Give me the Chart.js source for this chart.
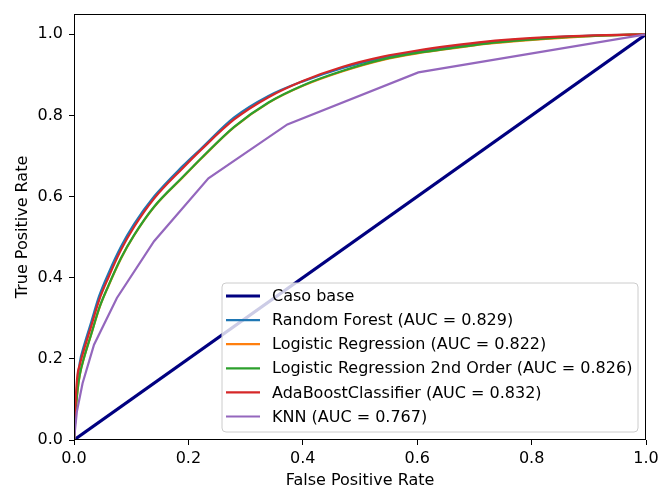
<!DOCTYPE html>
<html>
<head>
<meta charset="utf-8">
<script src="https://cdn.jsdelivr.net/npm/chart.js@4"></script>
<style>
  html, body { margin: 0; padding: 0; background: #fff; }
  #wrap { width: 658px; height: 487px; }
</style>
</head>
<body>
<div id="wrap"><canvas id="rocChart"></canvas></div>
<script>
// Tick labels
const xTicks = [0, 0.2, 0.4, 0.6, 0.8, 1.0];
const yTicks = [0, 0.2, 0.4, 0.6, 0.8, 1.0];

// Shared false positive rate grid for the model curves
const fprGrid = [0, 0.003, 0.006, 0.01, 0.018, 0.03, 0.044, 0.06, 0.082, 0.105, 0.14, 0.19, 0.222, 0.28, 0.34, 0.40, 0.47, 0.54, 0.60, 0.66, 0.72, 0.79, 0.86, 0.93, 1];

// True positive rates
const tprRandomForest = [0, 0.09, 0.14, 0.19, 0.235, 0.29, 0.355, 0.41, 0.476, 0.532, 0.6, 0.675, 0.718, 0.795, 0.848, 0.884, 0.917, 0.942, 0.957, 0.969, 0.98, 0.988, 0.994, 0.998, 1];
const tprLogReg = [0, 0.07, 0.12, 0.16, 0.205, 0.26, 0.324, 0.379, 0.447, 0.504, 0.574, 0.647, 0.693, 0.771, 0.831, 0.873, 0.909, 0.937, 0.953, 0.965, 0.976, 0.985, 0.992, 0.997, 1];
const tprLogReg2 = [0, 0.07, 0.12, 0.16, 0.205, 0.26, 0.325, 0.38, 0.448, 0.505, 0.575, 0.648, 0.694, 0.772, 0.832, 0.874, 0.91, 0.938, 0.954, 0.966, 0.977, 0.986, 0.993, 0.997, 1];
const tprAdaBoost = [0, 0.10, 0.16, 0.185, 0.225, 0.28, 0.345, 0.40, 0.468, 0.525, 0.595, 0.67, 0.715, 0.79, 0.845, 0.885, 0.92, 0.945, 0.96, 0.972, 0.982, 0.99, 0.995, 0.998, 1];

// KNN has few thresholds
const fprKnn = [0, 0.005, 0.015, 0.035, 0.075, 0.14, 0.235, 0.373, 0.602, 1];
const tprKnn = [0, 0.07, 0.14, 0.235, 0.35, 0.49, 0.645, 0.778, 0.906, 1];

// Baseline diagonal
const fprBase = [0, 1];
const tprBase = [0, 1];

const seriesLabels = [
  'Caso base',
  'Random Forest (AUC = 0.829)',
  'Logistic Regression (AUC = 0.822)',
  'Logistic Regression 2nd Order (AUC = 0.826)',
  'AdaBoostClassifier (AUC = 0.832)',
  'KNN (AUC = 0.767)',
];
const seriesColors = ['#000080', '#1f77b4', '#ff7f0e', '#2ca02c', '#d62728', '#9467bd'];
const seriesWidths = [3.1, 2.2, 2.2, 2.2, 2.2, 2.2];
const smoothCurve = [false, true, true, true, true, false];

function toPoints(xs, ys) {
  return xs.map((x, i) => ({ x: x, y: ys[i] }));
}

const seriesData = [
  toPoints(fprBase, tprBase),
  toPoints(fprGrid, tprRandomForest),
  toPoints(fprGrid, tprLogReg),
  toPoints(fprGrid, tprLogReg2),
  toPoints(fprGrid, tprAdaBoost),
  toPoints(fprKnn, tprKnn),
];

const FONT = 'DejaVu Sans';
const FONT_SIZE = 16;

// Frame and legend drawn on top of the lines, like matplotlib
const framePlugin = {
  id: 'frameAndLegend',
  afterDatasetsDraw(chart) {
    const ctx = chart.ctx;
    const a = chart.chartArea;
    ctx.save();
    ctx.strokeStyle = '#000';
    ctx.lineWidth = 1;
    ctx.strokeRect(Math.round(a.left) + 0.5, Math.round(a.top) + 0.5,
      Math.round(a.right - a.left) - 1, Math.round(a.bottom - a.top) - 1);

    // legend box
    const bx = 222, by = 283, bw = 416, bh = 149, r = 4;
    ctx.beginPath();
    ctx.moveTo(bx + r, by);
    ctx.lineTo(bx + bw - r, by);
    ctx.arcTo(bx + bw, by, bx + bw, by + r, r);
    ctx.lineTo(bx + bw, by + bh - r);
    ctx.arcTo(bx + bw, by + bh, bx + bw - r, by + bh, r);
    ctx.lineTo(bx + r, by + bh);
    ctx.arcTo(bx, by + bh, bx, by + bh - r, r);
    ctx.lineTo(bx, by + r);
    ctx.arcTo(bx, by, bx + r, by, r);
    ctx.closePath();
    ctx.fillStyle = 'rgba(255,255,255,0.8)';
    ctx.fill();
    ctx.strokeStyle = '#cccccc';
    ctx.lineWidth = 1;
    ctx.stroke();

    ctx.font = FONT_SIZE + 'px "' + FONT + '"';
    ctx.textBaseline = 'middle';
    ctx.textAlign = 'left';
    seriesLabels.forEach(function (label, i) {
      const rowY = 296 + i * 24.1;
      ctx.beginPath();
      ctx.moveTo(226, rowY);
      ctx.lineTo(260, rowY);
      ctx.strokeStyle = seriesColors[i];
      ctx.lineWidth = seriesWidths[i];
      ctx.stroke();
      ctx.fillStyle = '#000';
      ctx.fillText(label, 272, rowY + 1);
    });
    ctx.restore();
  },
};

const ctx = document.getElementById('rocChart').getContext('2d');
const rocChart = new Chart(ctx, {
  type: 'line',
  data: {
    datasets: seriesLabels.map(function (label, i) {
      return {
        label: label,
        data: seriesData[i],
        borderColor: seriesColors[i],
        borderWidth: seriesWidths[i],
        pointRadius: 0,
        tension: 0,
        cubicInterpolationMode: smoothCurve[i] ? 'monotone' : 'default',
        fill: false,
        order: seriesLabels.length - i, // later series on top, like matplotlib
      };
    }),
  },
  options: {
    responsive: true,
    maintainAspectRatio: false,
    animation: false,
    layout: { padding: { left: 0, right: 12, top: 14, bottom: 0 } },
    plugins: {
      legend: { display: false },
      tooltip: { enabled: false },
    },
    scales: {
      x: {
        type: 'linear',
        min: 0,
        max: 1,
        afterBuildTicks: function (scale) {
          scale.ticks = xTicks.map((v) => ({ value: v }));
        },
        afterFit: function (scale) {
          scale.height = 47;
          scale.paddingLeft = 0;
          scale.paddingRight = 0;
        },
        grid: { drawOnChartArea: false, drawTicks: true, tickLength: 5, color: '#000' },
        border: { display: false },
        ticks: {
          padding: 4,
          color: '#000',
          maxRotation: 0,
          font: { family: FONT, size: FONT_SIZE },
          callback: (v) => Number(v).toFixed(1),
        },
        title: {
          display: true,
          text: 'False Positive Rate',
          color: '#000',
          padding: { top: 0, bottom: 0 },
          font: { family: FONT, size: FONT_SIZE, lineHeight: 0.75 },
        },
      },
      y: {
        type: 'linear',
        min: 0,
        max: 1.05,
        afterBuildTicks: function (scale) {
          scale.ticks = yTicks.map((v) => ({ value: v }));
        },
        afterFit: function (scale) {
          scale.width = 74;
          scale.paddingTop = 0;
          scale.paddingBottom = 0;
        },
        grid: { drawOnChartArea: false, drawTicks: true, tickLength: 5, color: '#000' },
        border: { display: false },
        ticks: {
          padding: 6,
          color: '#000',
          font: { family: FONT, size: FONT_SIZE },
          callback: (v) => Number(v).toFixed(1),
        },
        title: {
          display: true,
          text: 'True Positive Rate',
          color: '#000',
          padding: { top: 16, bottom: 0 },
          font: { family: FONT, size: FONT_SIZE, lineHeight: 0.85 },
        },
      },
    },
  },
  plugins: [framePlugin],
});
</script>
</body>
</html>
